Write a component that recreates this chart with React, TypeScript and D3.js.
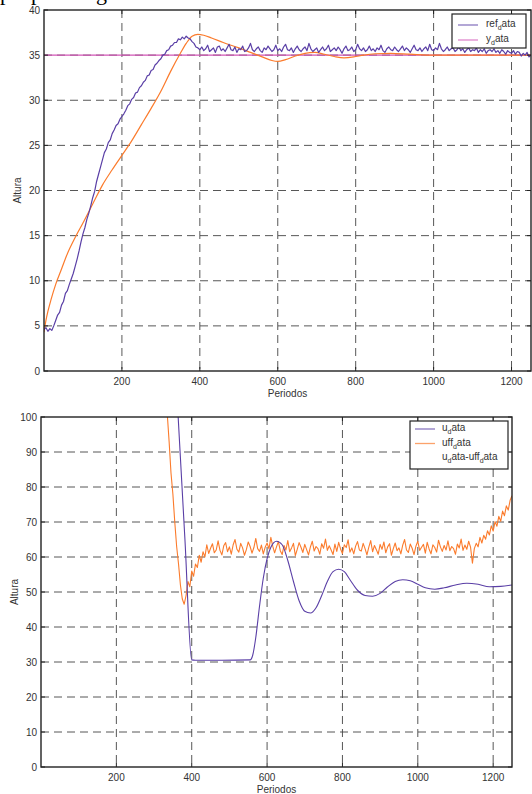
import React from 'react';
import * as d3 from 'd3';

// periods run from 0 to 1250 in both panels
const STEP = 5;

// top panel: reference (noisy), sampled every 5 periods from 0
const refData = [
  4.6, 4.8, 4.4, 4.7, 4.5, 5.0, 5.6, 6.2, 6.5, 7.3,
  7.7, 8.6, 8.9, 9.6, 10.2, 10.8, 11.6, 12.4, 13.3, 14.3,
  15.2, 15.9, 16.8, 17.5, 18.3, 19.2, 19.9, 21.0, 21.8, 22.6,
  23.4, 24.2, 24.6, 25.3, 25.6, 26.3, 26.7, 27.2, 27.4, 27.9,
  28.2, 28.5, 28.9, 29.4, 29.6, 30.1, 30.3, 30.8, 30.9, 31.4,
  31.6, 32.0, 32.2, 32.7, 32.8, 33.3, 33.4, 33.9, 34.1, 34.4,
  34.6, 35.0, 35.1, 35.5, 35.6, 36.0, 36.1, 36.4, 36.4, 36.8,
  36.7, 37.0, 36.8, 37.1, 36.9, 36.8, 36.5, 36.3, 35.9, 35.8,
  35.6, 35.9, 35.5, 35.7, 36.1, 35.4, 35.6, 35.8, 35.3, 35.9,
  36.0, 35.5, 35.7, 35.4, 35.8, 36.2, 35.6, 35.5, 35.9, 35.3,
  35.7, 35.6, 36.0, 35.4, 35.5, 35.8, 36.3, 35.6, 35.4, 35.7,
  35.9, 35.5, 35.3, 35.8, 35.6, 36.0, 35.7, 35.4, 35.6, 36.1,
  35.5, 35.7, 35.4, 35.9, 36.2, 35.6, 35.5, 35.8, 35.3, 35.7,
  36.0, 35.6, 35.4, 35.7, 35.9, 35.5, 36.3, 35.7, 35.4, 35.6,
  35.8, 35.3, 35.6, 35.9, 35.5, 35.7, 36.1, 35.4, 35.6, 35.8,
  35.5, 35.9, 35.6, 35.2, 35.7, 36.0, 35.5, 35.6, 35.9, 35.4,
  35.6, 36.2, 35.7, 35.5, 35.8, 35.4, 35.6, 36.0, 35.5, 35.7,
  35.4, 35.8, 35.6, 36.1, 35.5, 35.3, 35.7, 35.9, 35.6, 35.5,
  35.9, 35.6, 35.4, 35.7, 36.0, 35.5, 35.8, 35.6, 35.3, 35.7,
  36.1, 35.6, 35.5, 35.8, 35.4, 35.7, 35.9, 35.5, 36.2, 35.6,
  35.5, 35.8, 35.6, 36.3, 35.7, 35.4, 35.6, 35.9, 35.5, 35.7,
  35.8, 35.4, 35.6, 35.9, 35.5, 35.7, 35.3, 35.6, 35.8, 35.4,
  35.6, 35.5, 35.8, 35.3, 35.6, 35.4, 35.7, 35.2, 35.5, 35.6,
  35.4, 35.7, 35.3, 35.5, 35.2, 35.6, 35.4, 35.1, 35.5, 35.3,
  35.2, 35.5, 35.1, 35.4, 35.3, 34.9, 35.2, 35.0, 35.3, 34.8,
  35.0
];

// top panel: set level
const yDataPeriods = [0, 1250];
const yDataValues = [35, 35];

// top panel: plant output (smooth)
const outPeriods = [
  0, 5, 10, 18, 30, 45, 60, 80, 100, 125, 150, 175, 200, 225, 250, 275, 300, 325,
  350, 365, 380, 395, 410, 430, 460, 500, 530, 560, 585, 600, 620, 645, 670, 695,
  720, 745, 770, 795, 820, 850, 890, 940, 1000, 1100, 1250
];
const outValues = [
  4.3, 5.6, 6.6, 7.9, 9.6, 11.3, 13.0, 14.8, 16.4, 18.5, 20.6, 22.3, 23.9, 25.5, 27.3, 29.1, 31.0, 33.2,
  35.2, 36.3, 37.1, 37.3, 37.2, 36.9, 36.4, 35.8, 35.3, 34.8, 34.4, 34.3, 34.5, 34.9, 35.2, 35.3,
  35.1, 34.85, 34.7, 34.8, 35.0, 35.15, 35.2, 35.1, 35.0, 35.0, 35.0
];

// bottom panel: u_data (smooth)
const uPeriods = [
  340, 355, 364, 382, 400, 410, 480, 555, 562, 570, 580, 590, 600, 610, 625, 640, 655, 670,
  685, 700, 715, 730, 745, 760, 775, 790, 805, 820, 840, 860, 880, 900, 920, 940, 960, 980,
  1000, 1020, 1045, 1070, 1100, 1130, 1160, 1190, 1220, 1250
];
const uValues = [
  130, 118, 100, 65, 30.6, 30.5, 30.5, 30.6, 32, 37, 46, 54, 59.5, 62.8, 64.5, 63.5, 59, 53,
  47.5, 44.5, 44, 45.5, 49, 53, 55.8, 56.5, 55.8, 53.5, 50.5, 49, 48.8, 49.6, 51.5, 53, 53.5, 53.2,
  52.2, 51.2, 50.8, 51.2, 52, 52.5, 52.2, 51.5, 51.6, 52
];

// bottom panel: uff_data (noisy), sampled every 5 periods from 330
const uffStart = 330;
const uffValues = [
  112, 101, 93, 84, 78, 70, 63, 58, 52, 48,
  46.5, 49, 53, 51.5, 56, 54.5, 58, 57, 60.5, 58.5,
  61.5, 60, 63.5, 61,
  62.5, 63.8, 61.2, 62.0, 64.6, 61.9, 60.6, 63.2, 64.1, 61.5,
  62.9, 60.8, 63.5, 65.0, 62.2, 61.4, 63.9, 62.6, 60.5, 62.1,
  64.3, 63.0, 61.1, 62.7, 65.3, 62.4, 61.6, 63.4, 60.9, 62.8,
  64.0, 62.3, 65.6, 63.1, 61.2, 62.9, 64.4, 61.8, 60.7, 63.3,
  62.0, 64.7, 61.5, 62.6, 63.9, 60.4, 62.2, 64.1, 62.8, 61.3,
  63.6, 62.1, 60.6, 62.9, 64.5, 61.7, 63.0, 62.4, 60.8, 63.8,
  62.5, 65.1, 61.9, 63.2, 62.0, 60.7, 63.7, 61.6, 64.2, 62.3,
  61.0, 63.5, 62.7, 64.9, 61.4, 62.6, 60.9, 63.1, 64.4, 62.0,
  61.7, 63.9, 62.4, 60.6, 62.8, 64.7, 61.5, 63.3, 62.1, 60.8,
  63.6, 62.2, 64.3, 61.2, 62.9, 63.8, 60.5, 62.4, 64.0, 61.8,
  62.6, 60.9, 63.4, 65.0, 62.0, 61.3, 63.7, 62.5, 60.7, 63.1,
  64.5, 61.9, 62.8, 63.6, 61.1, 64.2, 62.3, 60.9, 63.5, 62.7,
  61.4, 64.8, 62.9, 61.6, 63.3, 62.0, 64.6, 61.8, 63.0, 62.4,
  60.8, 63.7, 62.6, 65.1, 61.9, 63.4, 62.2, 64.5, 62.8, 58.2,
  62.4, 63.9, 62.9, 65.6, 64.0, 66.2, 65.1, 67.5, 66.3, 68.9,
  67.4, 70.1, 68.8, 71.6, 70.2, 73.1, 71.8, 74.6, 73.4, 76.2,
  77.5
];

const xTicks = [200, 400, 600, 800, 1000, 1200];
const topYTicks = [0, 5, 10, 15, 20, 25, 30, 35, 40];
const bottomYTicks = [0, 10, 20, 30, 40, 50, 60, 70, 80, 90, 100];
const topLegend = ['ref_data', 'y_data'];
const bottomLegend = ['u_data', 'uff_data', 'u_data-uff_data'];

const purple = '#5a3fa6';
const orange = '#fb7b2c';
const pink = '#d255b6';
const font = 'Liberation Sans, Arial, sans-serif';

// "ref_data" -> ref + subscript d + ata (tex style)
function texLabel(label: string) {
  const parts = label.split('_');
  const out: any[] = [<tspan key="p0">{parts[0]}</tspan>];
  parts.slice(1).forEach((p, i) => {
    out.push(<tspan key={'s' + i} dy={3} fontSize={7}>{p[0]}</tspan>);
    out.push(<tspan key={'r' + i} dy={-3} fontSize={10}>{p.slice(1)}</tspan>);
  });
  return out;
}

function Panel(props: any) {
  const { id, box, yMax, yTicks, series, legend, legendBox } = props;
  const x = d3.scaleLinear().domain([0, 1250]).range([box.left, box.right]);
  const y = d3.scaleLinear().domain([0, yMax]).range([box.bottom, box.top]);
  const grid = '#444';

  return (
    <g>
      <defs>
        <clipPath id={id}>
          <rect x={box.left} y={box.top} width={box.right - box.left} height={box.bottom - box.top} />
        </clipPath>
      </defs>
      <rect x={box.left} y={box.top} width={box.right - box.left} height={box.bottom - box.top} fill="#fff" />
      {yTicks.filter((t: number) => t > 0 && t < yMax).map((t: number) => (
        <line key={'gy' + t} x1={box.left} x2={box.right} y1={y(t)} y2={y(t)}
              stroke={grid} strokeWidth={0.9} strokeDasharray="8,5" />
      ))}
      {xTicks.map(t => (
        <line key={'gx' + t} x1={x(t)} x2={x(t)} y1={box.top} y2={box.bottom}
              stroke={grid} strokeWidth={0.9} strokeDasharray="8,5" />
      ))}
      <g clipPath={`url(#${id})`}>
        {series.map((s: any, i: number) => {
          const line = d3.line<number[]>()
            .x(d => x(d[0]))
            .y(d => y(d[1]))
            .curve(s.smooth ? d3.curveMonotoneX : d3.curveLinear);
          return <path key={i} d={line(s.points) || ''} fill="none" stroke={s.color}
                       strokeWidth={s.width} strokeLinejoin="round" />;
        })}
      </g>
      <rect x={box.left} y={box.top} width={box.right - box.left} height={box.bottom - box.top}
            fill="none" stroke="#222" strokeWidth={1.4} />
      {yTicks.map((t: number) => (
        <g key={'ty' + t}>
          <line x1={box.left} x2={box.left + 4} y1={y(t)} y2={y(t)} stroke="#222" />
          <line x1={box.right} x2={box.right - 4} y1={y(t)} y2={y(t)} stroke="#222" />
          <text x={box.left - 4} y={y(t) + 3.5} textAnchor="end" fontSize={10} fill="#333"
                fontFamily={font}>{t}</text>
        </g>
      ))}
      {xTicks.map(t => (
        <g key={'tx' + t}>
          <line x1={x(t)} x2={x(t)} y1={box.bottom} y2={box.bottom - 4} stroke="#222" />
          <line x1={x(t)} x2={x(t)} y1={box.top} y2={box.top + 4} stroke="#222" />
          <text x={x(t)} y={box.bottom + 14} textAnchor="middle" fontSize={10} fill="#333"
                fontFamily={font}>{t}</text>
        </g>
      ))}
      <text x={(box.left + box.right) / 2} y={box.bottom + 26} textAnchor="middle" fontSize={10}
            fill="#333" fontFamily={font}>Periodos</text>
      <text transform={`translate(${box.left - 23},${(box.top + box.bottom) / 2}) rotate(-90)`}
            textAnchor="middle" fontSize={10} fill="#333" fontFamily={font}>Altura</text>

      <rect x={legendBox.x} y={legendBox.y} width={legendBox.w} height={legendBox.h}
            fill="#fff" stroke="#222" strokeWidth={1.2} />
      {legend.map((l: any, i: number) => {
        const ly = legendBox.y + legendBox.first + i * legendBox.gap;
        return (
          <g key={'lg' + i}>
            {l.color && <line x1={legendBox.x + legendBox.lineX} x2={legendBox.x + legendBox.lineX + 20}
                              y1={ly} y2={ly} stroke={l.color} strokeWidth={1.3} strokeOpacity={0.7} />}
            <text x={legendBox.x + legendBox.textX} y={ly + 2} fontSize={10} fill="#333"
                  fontFamily={font}>{texLabel(l.name)}</text>
          </g>
        );
      })}
    </g>
  );
}

export default function App() {
  const topSeries = [
    { points: yDataPeriods.map((p, i) => [p, yDataValues[i]]), color: pink, width: 1.1 },
    { points: outPeriods.map((p, i) => [p, outValues[i]]), color: orange, width: 1.2, smooth: true },
    { points: refData.map((v, i) => [i * STEP, v]), color: purple, width: 1.2 },
  ];
  const bottomSeries = [
    { points: uffValues.map((v, i) => [uffStart + i * STEP, v]), color: orange, width: 1.1 },
    { points: uPeriods.map((p, i) => [p, uValues[i]]), color: purple, width: 1.1, smooth: true },
  ];

  return (
    <svg width={532} height={794} style={{ position: 'absolute', left: 0, top: 0, background: '#fff' }}>
      <text y={0} fontSize={22} fontFamily="Liberation Serif, serif" fill="#000">
        <tspan x={0}>p</tspan>
        <tspan x={31}>p</tspan>
        <tspan x={96}>g</tspan>
      </text>
      <Panel id="clipTop" box={{ left: 44, right: 531, top: 10, bottom: 371 }} yMax={40}
             yTicks={topYTicks} series={topSeries}
             legend={[{ name: topLegend[0], color: purple }, { name: topLegend[1], color: pink }]}
             legendBox={{ x: 452, y: 14, w: 74, h: 34, first: 11, gap: 15, lineX: 6, textX: 34 }} />
      <Panel id="clipBottom" box={{ left: 41, right: 512, top: 417, bottom: 767 }} yMax={100}
             yTicks={bottomYTicks} series={bottomSeries}
             legend={[{ name: bottomLegend[0], color: purple }, { name: bottomLegend[1], color: orange },
                      { name: bottomLegend[2], color: null }]}
             legendBox={{ x: 410, y: 421, w: 98, h: 48, first: 8, gap: 14.5, lineX: 5, textX: 32 }} />
    </svg>
  );
}
